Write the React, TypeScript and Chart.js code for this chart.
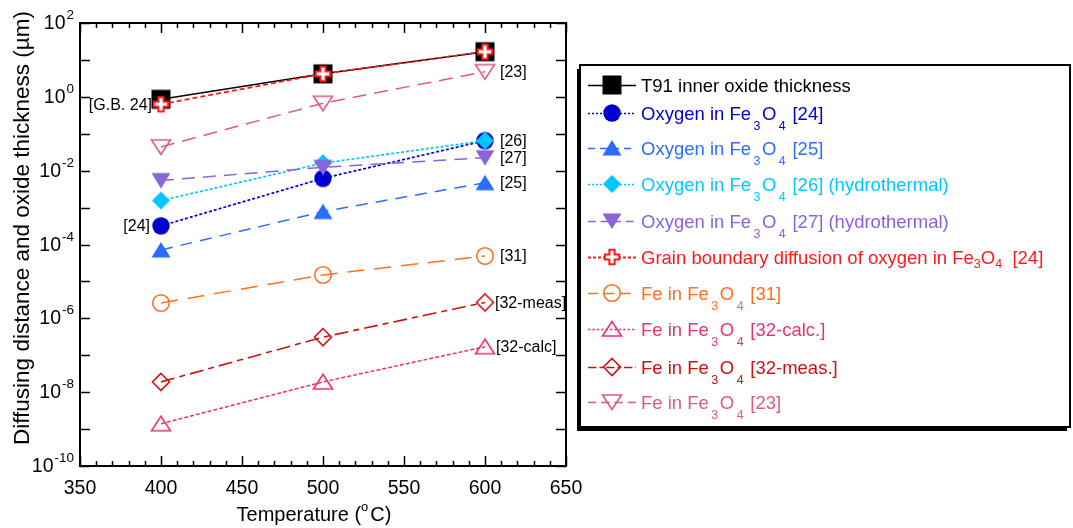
import React, { useEffect, useRef } from 'react';
import { Chart, registerables } from 'chart.js';

Chart.register(...registerables);

// ---------- data ----------
const temperatures = [400, 500, 600];
const t91Thickness = [0.86, 4.2, 16.7];
const oxygen24 = [3.2e-4, 6.2e-3, 0.065];
const oxygen25 = [7.1e-5, 7.8e-4, 4.7e-3];
const oxygen26 = [1.55e-3, 0.016, 0.065];
const oxygen27 = [5.4e-3, 0.0123, 0.0225];
const grainBoundary24 = [0.63, 4.2, 16.7];
const fe31 = [2.6e-6, 1.5e-5, 4.9e-5];
const fe32calc = [1.4e-9, 1.9e-8, 1.7e-7];
const fe32meas = [1.9e-8, 3.1e-7, 2.7e-6];
const fe23 = [0.044, 0.67, 4.8];

const xTickValues = [350, 400, 450, 500, 550, 600, 650];
const yTickExponents = [2, 0, -2, -4, -6, -8, -10];
const xTitle = ['Temperature (', 'o', 'C)'];
const yTitle = 'Diffusing distance and oxide thickness (\u00b5m)';

// label parts: [text, kind] kind: n normal, s low subscript, t tight subscript
const legendT91 = [['T91 inner oxide thickness', 'n']];
const legendO24 = [['Oxygen in Fe', 'n'], ['3', 's'], ['O', 'n'], ['4', 's'], [' [24]', 'n']];
const legendO25 = [['Oxygen in Fe', 'n'], ['3', 's'], ['O', 'n'], ['4', 's'], [' [25]', 'n']];
const legendO26 = [['Oxygen in Fe', 'n'], ['3', 's'], ['O', 'n'], ['4', 's'], [' [26] (hydrothermal)', 'n']];
const legendO27 = [['Oxygen in Fe', 'n'], ['3', 's'], ['O', 'n'], ['4', 's'], [' [27] (hydrothermal)', 'n']];
const legendGB = [['Grain boundary diffusion of oxygen in Fe', 'n'], ['3', 't'], ['O', 'n'], ['4', 't'], ['  [24]', 'n']];
const legendFe31 = [['Fe in Fe', 'n'], ['3', 's'], ['O', 'n'], ['4', 's'], [' [31]', 'n']];
const legendFe32c = [['Fe in Fe', 'n'], ['3', 's'], ['O', 'n'], ['4', 's'], [' [32-calc.]', 'n']];
const legendFe32m = [['Fe in Fe', 'n'], ['3', 's'], ['O', 'n'], ['4', 's'], [' [32-meas.]', 'n']];
const legendFe23 = [['Fe in Fe', 'n'], ['3', 's'], ['O', 'n'], ['4', 's'], [' [23]', 'n']];

const FONT = "'Liberation Sans', Arial, sans-serif";

type Series = {
  key: string;
  values: number[];
  color: string;
  dash: number[];
  width: number;
  marker: string;
  order: number;
  legend: string[][];
};

const series: Series[] = [
  { key: 't91', values: t91Thickness, color: '#000000', dash: [], width: 1.5, marker: 'square', order: 1, legend: legendT91 },
  { key: 'o24', values: oxygen24, color: '#0000CC', dash: [3, 2], width: 1.7, marker: 'circle', order: 4, legend: legendO24 },
  { key: 'o25', values: oxygen25, color: '#2A6EFF', dash: [12, 8], width: 1.5, marker: 'triUp', order: 5, legend: legendO25 },
  { key: 'o26', values: oxygen26, color: '#00C8FF', dash: [3, 2], width: 1.7, marker: 'diamond', order: 3, legend: legendO26 },
  { key: 'o27', values: oxygen27, color: '#8A63D8', dash: [13, 8], width: 1.5, marker: 'triDown', order: 2, legend: legendO27 },
  { key: 'gb', values: grainBoundary24, color: '#FF1A1A', dash: [5, 3], width: 1.8, marker: 'cross', order: 0, legend: legendGB },
  { key: 'fe31', values: fe31, color: '#FF7020', dash: [17, 10], width: 1.5, marker: 'circleOpen', order: 6, legend: legendFe31 },
  { key: 'fe32c', values: fe32calc, color: '#E8336E', dash: [4, 2], width: 1.5, marker: 'triUpOpen', order: 7, legend: legendFe32c },
  { key: 'fe32m', values: fe32meas, color: '#CC1111', dash: [14, 5, 6, 5], width: 1.6, marker: 'diamondOpen', order: 8, legend: legendFe32m },
  { key: 'fe23', values: fe23, color: '#DD5A88', dash: [14, 8], width: 1.5, marker: 'triDownOpen', order: 9, legend: legendFe23 },
];

// annotations near points: text, series key, index, side, offset
const pointNotes: [string, string, number, string, number][] = [
  ['[G.B. 24]', 'gb', 0, 'left', 9],
  ['[24]', 'o24', 0, 'left', 11],
  ['[23]', 'fe23', 2, 'right', 15],
  ['[26]', 'o26', 2, 'right', 15],
  ['[27]', 'o27', 2, 'right', 15],
  ['[25]', 'o25', 2, 'right', 15],
  ['[31]', 'fe31', 2, 'right', 15],
  ['[32-meas]', 'fe32m', 2, 'right', 10],
  ['[32-calc]', 'fe32c', 2, 'right', 11],
];

function makeMarker(kind: string, color: string): HTMLCanvasElement {
  const s = 24;
  const c = document.createElement('canvas');
  c.width = s;
  c.height = s;
  const g = c.getContext('2d') as CanvasRenderingContext2D;
  const m = s / 2;
  g.lineWidth = 1.6;
  g.strokeStyle = color;
  g.fillStyle = color;
  const poly = (pts: number[][]) => {
    g.beginPath();
    pts.forEach((p, i) => (i ? g.lineTo(m + p[0], m + p[1]) : g.moveTo(m + p[0], m + p[1])));
    g.closePath();
  };
  switch (kind) {
    case 'square':
      g.fillRect(m - 9.5, m - 9.5, 19, 19);
      break;
    case 'circle':
      g.beginPath();
      g.arc(m, m, 8.7, 0, Math.PI * 2);
      g.fill();
      break;
    case 'circleOpen':
      g.beginPath();
      g.arc(m, m, 8.3, 0, Math.PI * 2);
      g.stroke();
      break;
    case 'triUp':
      poly([[0, -8], [9.5, 7.5], [-9.5, 7.5]]);
      g.fill();
      break;
    case 'triUpOpen':
      poly([[0, -7.5], [9.5, 7], [-9.5, 7]]);
      g.stroke();
      break;
    case 'triDown':
      poly([[-9.5, -7.5], [9.5, -7.5], [0, 8]]);
      g.fill();
      break;
    case 'triDownOpen':
      poly([[-9.5, -7], [9.5, -7], [0, 7.5]]);
      g.stroke();
      break;
    case 'diamond':
      poly([[0, -9], [9, 0], [0, 9], [-9, 0]]);
      g.fill();
      break;
    case 'diamondOpen':
      poly([[0, -8.5], [8.5, 0], [0, 8.5], [-8.5, 0]]);
      g.stroke();
      break;
    case 'cross': {
      const a = 7.2;
      const w = 2.6;
      poly([
        [-w, -a], [w, -a], [w, -w], [a, -w], [a, w], [w, w], [w, a], [-w, a], [-w, w], [-a, w], [-a, -w], [-w, -w],
      ]);
      g.fillStyle = '#FFFFFF';
      g.fill();
      g.lineWidth = 2;
      g.stroke();
      break;
    }
  }
  return c;
}

export default function App() {
  const ref = useRef<HTMLCanvasElement | null>(null);

  useEffect(() => {
    const canvas = ref.current;
    if (!canvas) return;
    const markers: Record<string, HTMLCanvasElement> = {};
    series.forEach((s) => {
      markers[s.key] = makeMarker(s.marker, s.color);
    });

    const drawRich = (ctx: CanvasRenderingContext2D, parts: string[][], x: number, y: number, color: string) => {
      let cx = x;
      ctx.fillStyle = color;
      ctx.textAlign = 'left';
      ctx.textBaseline = 'alphabetic';
      parts.forEach(([t, k]) => {
        if (k === 'n') {
          ctx.font = `18.5px ${FONT}`;
          ctx.fillText(t, cx, y);
          cx += ctx.measureText(t).width;
        } else if (k === 's') {
          ctx.font = `12.5px ${FONT}`;
          cx += 2.5;
          ctx.fillText(t, cx, y + 10);
          cx += ctx.measureText(t).width + 1.5;
        } else {
          ctx.font = `12.5px ${FONT}`;
          ctx.fillText(t, cx, y + 4);
          cx += ctx.measureText(t).width;
        }
      });
    };

    const decor = {
      id: 'decor',
      afterDraw(chart: any) {
        const ctx: CanvasRenderingContext2D = chart.ctx;
        const area = chart.chartArea;
        const xs = chart.scales.x;
        const ys = chart.scales.y;
        ctx.save();
        ctx.setLineDash([]);
        ctx.strokeStyle = '#000';
        ctx.fillStyle = '#000';

        // frame
        ctx.lineWidth = 2;
        ctx.strokeRect(area.left, area.top, area.right - area.left, area.bottom - area.top);

        // x ticks (major + minor)
        ctx.lineWidth = 1.5;
        for (let v = xTickValues[0]; v <= xTickValues[xTickValues.length - 1]; v += 10) {
          const px = Math.round(xs.getPixelForValue(v)) + 0.5;
          const len = v % 50 === 0 ? 10 : 5;
          ctx.beginPath();
          ctx.moveTo(px, area.bottom);
          ctx.lineTo(px, area.bottom - len);
          ctx.moveTo(px, area.top);
          ctx.lineTo(px, area.top + len);
          ctx.stroke();
        }
        // y ticks each decade
        for (let e = -10; e <= 2; e++) {
          const py = Math.round(ys.getPixelForValue(Math.pow(10, e))) + 0.5;
          ctx.beginPath();
          ctx.moveTo(area.left, py);
          ctx.lineTo(area.left + 10, py);
          ctx.moveTo(area.right, py);
          ctx.lineTo(area.right - 10, py);
          ctx.stroke();
        }

        // x tick labels
        ctx.font = `19.5px ${FONT}`;
        ctx.textAlign = 'center';
        ctx.textBaseline = 'alphabetic';
        xTickValues.forEach((v) => {
          ctx.fillText(String(v), xs.getPixelForValue(v), area.bottom + 27.5);
        });

        // y tick labels 10^e
        yTickExponents.forEach((e) => {
          const py = ys.getPixelForValue(Math.pow(10, e));
          const right = area.left - 6;
          ctx.textAlign = 'right';
          ctx.font = `13.5px ${FONT}`;
          const expText = String(e);
          const ew = ctx.measureText(expText).width;
          ctx.fillText(expText, right, py - 4);
          ctx.font = `19.5px ${FONT}`;
          ctx.fillText('10', right - ew - 1, py + 6);
        });

        // x title
        ctx.textAlign = 'left';
        ctx.font = `20px ${FONT}`;
        const w1 = ctx.measureText(xTitle[0]).width;
        ctx.font = `13px ${FONT}`;
        const w2 = ctx.measureText(xTitle[1]).width;
        ctx.font = `20px ${FONT}`;
        const w3 = ctx.measureText(xTitle[2]).width;
        const total = w1 + w2 + w3 + 2;
        let tx = 314 - total / 2;
        const tb = 521;
        ctx.fillText(xTitle[0], tx, tb);
        tx += w1;
        ctx.font = `13px ${FONT}`;
        ctx.fillText(xTitle[1], tx, tb - 10);
        tx += w2 + 2;
        ctx.font = `20px ${FONT}`;
        ctx.fillText(xTitle[2], tx, tb);

        // y title
        ctx.save();
        ctx.translate(29, 228);
        ctx.rotate(-Math.PI / 2);
        ctx.textAlign = 'center';
        ctx.font = `22.5px ${FONT}`;
        ctx.fillText(yTitle, 0, 0);
        ctx.restore();

        // point notes
        ctx.font = `16px ${FONT}`;
        ctx.textBaseline = 'middle';
        pointNotes.forEach(([text, key, idx, side, off]) => {
          const s = series.find((q) => q.key === key)!;
          const px = xs.getPixelForValue(temperatures[idx]);
          const py = ys.getPixelForValue(s.values[idx]);
          ctx.textAlign = side === 'left' ? 'right' : 'left';
          ctx.fillText(text, side === 'left' ? px - off : px + off, py + 1);
        });

        // legend box with shadow
        const bx = 580, by = 65, bw = 490, bh = 362;
        ctx.fillStyle = '#000';
        ctx.fillRect(bx - 3, by + 4, bw, bh);
        ctx.fillStyle = '#fff';
        ctx.fillRect(bx, by, bw, bh);
        ctx.strokeStyle = '#000';
        ctx.lineWidth = 2;
        ctx.strokeRect(bx, by, bw, bh);

        const rowY = [85, 113, 148, 184, 221, 257, 293, 329, 367, 402];
        series.forEach((s, i) => {
          const cy = rowY[i];
          ctx.save();
          ctx.strokeStyle = s.color;
          ctx.lineWidth = s.width;
          ctx.setLineDash(s.dash.map((d) => Math.max(2, d * 0.6)));
          ctx.beginPath();
          ctx.moveTo(588, cy + 0.5);
          ctx.lineTo(636, cy + 0.5);
          ctx.stroke();
          ctx.restore();
          const img = markers[s.key];
          ctx.drawImage(img, 612 - img.width / 2, cy - img.height / 2);
          drawRich(ctx, s.legend, 641, cy + 6.5, s.color);
        });

        ctx.restore();
      },
    };

    const chart = new Chart(canvas, {
      type: 'line',
      data: {
        datasets: series.map((s) => ({
          label: s.key,
          data: temperatures.map((t, i) => ({ x: t, y: s.values[i] })),
          borderColor: s.color,
          backgroundColor: s.color,
          borderWidth: s.width,
          borderDash: s.dash,
          pointStyle: markers[s.key] as any,
          pointRadius: 9,
          pointHoverRadius: 9,
          order: s.order,
          tension: 0,
          clip: false as any,
        })),
      },
      options: {
        animation: false,
        responsive: false,
        events: [],
        layout: { padding: { left: 80, top: 23, right: 507, bottom: 62 } },
        plugins: { legend: { display: false }, tooltip: { enabled: false }, title: { display: false } },
        scales: {
          x: { type: 'linear', display: false, min: 350, max: 650 },
          y: { type: 'logarithmic', display: false, min: 1e-10, max: 100 },
        },
      },
      plugins: [decor],
    });
    return () => chart.destroy();
  }, []);

  return (
    <div style={{ position: 'absolute', left: 0, top: 0, width: 1073, height: 528, background: '#fff' }}>
      <canvas ref={ref} width={1073} height={528} style={{ display: 'block', width: 1073, height: 528 }} />
    </div>
  );
}
